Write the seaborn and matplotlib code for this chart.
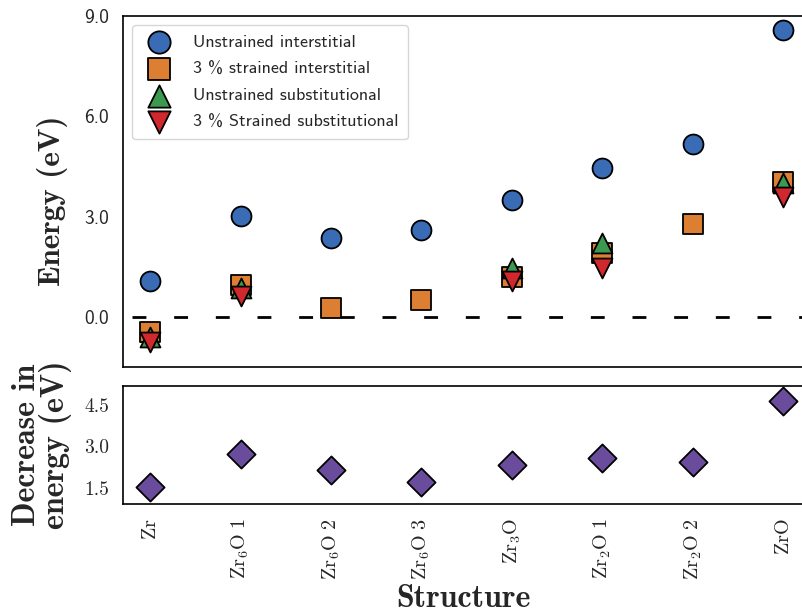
import numpy as np
import pandas as pd
import matplotlib
matplotlib.use("Agg")
import matplotlib.pyplot as plt
import seaborn as sns

# Structures along the x axis
structures = [r"$\mathrm{Zr}$", r"$\mathrm{Zr_6O\ 1}$", r"$\mathrm{Zr_6O\ 2}$",
              r"$\mathrm{Zr_6O\ 3}$", r"$\mathrm{Zr_3O}$", r"$\mathrm{Zr_2O\ 1}$",
              r"$\mathrm{Zr_2O\ 2}$", r"$\mathrm{ZrO}$"]

# Energies (eV)
unstrained_interstitial = [1.07, 3.02, 2.36, 2.60, 3.50, 4.44, 5.17, 8.59]
strained_interstitial = [-0.45, 0.96, 0.27, 0.51, 1.20, 1.91, 2.78, 4.04]
unstrained_substitutional = [-0.60, 0.87, np.nan, np.nan, 1.47, 2.20, np.nan, 4.00]
strained_substitutional = [-0.75, 0.61, np.nan, np.nan, 1.08, 1.45, np.nan, 3.59]

# Decrease in energy (eV)
energy_decrease = [1.53, 2.74, 2.16, 1.73, 2.33, 2.59, 2.43, 4.63]

top_ticks = [0.0, 3.0, 6.0, 9.0]
bottom_ticks = [1.5, 3.0, 4.5]

series_labels = ["Unstrained interstitial", "3 % strained interstitial",
                 "Unstrained substitutional", "3 % Strained substitutional"]

sns.set_style("white")
plt.rcParams["mathtext.fontset"] = "cm"
plt.rcParams["axes.edgecolor"] = "black"
plt.rcParams["axes.linewidth"] = 1.2

pos = np.arange(len(structures))
df = pd.DataFrame({
    "pos": pos,
    "ui": unstrained_interstitial,
    "si": strained_interstitial,
    "us": unstrained_substitutional,
    "ss": strained_substitutional,
    "dec": energy_decrease,
})

W, H = 803, 616
fig = plt.figure(figsize=(W / 100, H / 100), dpi=100)
ax_top = fig.add_axes([123 / W, (H - 367) / H, (804 - 123) / W, (367 - 16) / H])
ax_bot = fig.add_axes([123 / W, (H - 504) / H, (804 - 123) / W, (504 - 386) / H])

colors = ["#3a6cb5", "#dd7f33", "#3c9a50", "#d0282c"]
markers = ["o", "s", "^", "v"]
cols = ["ui", "si", "us", "ss"]
msize = 205
for i, (c, m, col, lab) in enumerate(zip(colors, markers, cols, series_labels)):
    sns.scatterplot(data=df, x="pos", y=col, marker=m, s=msize, color=c,
                    edgecolor="black", linewidth=1.3, label=lab, ax=ax_top,
                    zorder=3 + i)

ax_top.plot([-0.2, 7.6], [0, 0], color="black", lw=2, dashes=(5, 10), zorder=10)

ax_top.set_xlim(-0.3, 7.23)
ax_top.set_ylim(-1.5, 9.0)
ax_top.set_xticks(pos)
ax_top.set_xticklabels([])
ax_top.set_xlabel("")
ax_top.set_yticks(top_ticks)
ax_top.set_yticklabels([f"{t:.1f}" for t in top_ticks], family="cmss10", fontsize=14)
ax_top.tick_params(length=0, pad=10)
ax_top.set_ylabel("Energy (eV)", family="cmb10", fontsize=22.5)
ax_top.yaxis.set_label_coords(-0.081, 0.475)

leg = ax_top.legend(loc="upper left", prop={"family": "cmss10", "size": 13},
                    handletextpad=0.9, labelspacing=0.62, borderpad=0.5,
                    markerscale=1.12)

sns.scatterplot(data=df, x="pos", y="dec", marker="D", s=msize, color="#6a4c9c",
                edgecolor="black", linewidth=1.3, ax=ax_bot, zorder=3, legend=False)
ax_bot.set_xlim(-0.3, 7.23)
ax_bot.set_ylim(0.92, 5.19)
ax_bot.set_xticks(pos)
ax_bot.set_xticklabels(structures, rotation=90, fontsize=14.5)
ax_bot.set_yticks(bottom_ticks)
ax_bot.set_yticklabels([f"{t:.1f}" for t in bottom_ticks], family="cmr10", fontsize=14)
ax_bot.tick_params(length=0, pad=10)
ax_bot.set_ylabel("Decrease in\nenergy (eV)", family="cmb10", fontsize=23,
                  linespacing=0.92, labelpad=9)
ax_bot.set_xlabel("Structure", family="cmb10", fontsize=23, labelpad=3)

fig.savefig("out.png", dpi=100)
